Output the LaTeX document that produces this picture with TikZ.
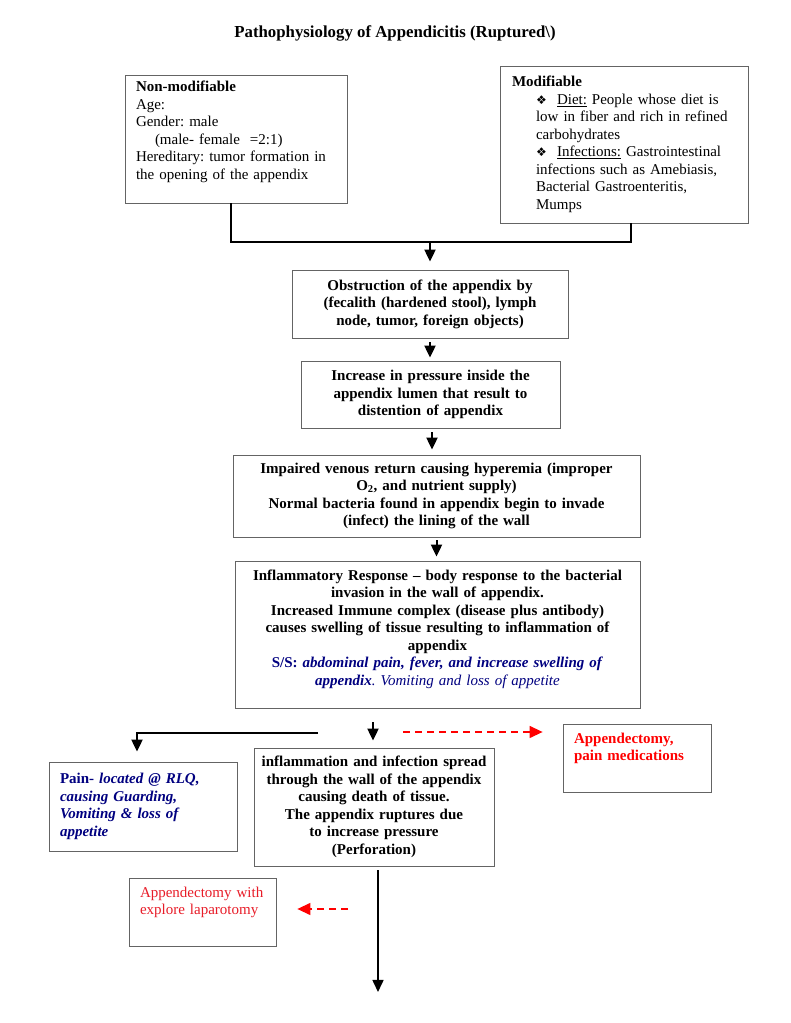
\documentclass[tikz,border=0pt]{standalone}
\usepackage{fontspec}
\setmainfont{Liberation Serif}
\newfontfamily\symfont{DejaVu Sans}
\usepackage{tikz}
\usetikzlibrary{arrows.meta, calc, positioning}
\frenchspacing
\definecolor{navytext}{RGB}{0,0,128}
\definecolor{redtext}{RGB}{255,0,0}
\definecolor{redsoft}{RGB}{232,28,40}
\definecolor{boxline}{RGB}{100,100,100}
\tikzstyle{basefont}=[font=\fontsize{15}{17.5}\selectfont]
\tikzstyle{box}=[basefont, draw=boxline, line width=0.8pt, inner xsep=4pt, inner ysep=0pt, align=center]
\tikzstyle{boldbox}=[box, font=\fontsize{15}{17.5}\selectfont\bfseries]
\tikzstyle{leftbox}=[box, align=left, inner xsep=11pt]
\tikzstyle{joint}=[line width=2pt]
\tikzstyle{arrow}=[line width=2pt, -{Triangle[width=11pt,length=12pt]}]
\tikzstyle{redarrow}=[red, line width=1.3pt, dash pattern=on 7pt off 5pt, -{Triangle[width=12pt,length=13pt]}]
\newcommand*{\dingbullet}{\makebox[21pt][l]{\symfont\fontsize{12}{12}\selectfont ❖}}

\begin{document}
\begin{tikzpicture}[x=1pt, y=1pt]
	\fill[white] (0,0) rectangle (791,1023);
	\useasboundingbox (0,0) rectangle (791,1023);

	% Title
	\node[font=\fontsize{16.8}{19}\selectfont\bfseries] (title) at (395,990)
		{Pathophysiology of Appendicitis (Ruptured\textbackslash)};

	% Risk factors
	\node[leftbox, text width=200pt, minimum height=128pt] (nonmod) at (236,884) {%
		\textbf{Non-modifiable}\\
		Age:\\
		Gender: male\\
		\hspace*{19pt}(male- female\ \ =2:1)\\
		Hereditary: tumor formation in\\
		the opening of the appendix\\
		\mbox{}};
	\node[leftbox, inner xsep=12pt, text width=224pt, minimum height=157pt] (mod) at (624,878.5) {%
		\textbf{Modifiable}\\
		\hspace*{24pt}\dingbullet\underline{Diet:} People whose diet is\\
		\hspace*{24pt}low in fiber and rich in refined\\
		\hspace*{24pt}carbohydrates\\
		\hspace*{24pt}\dingbullet\underline{Infections:} Gastrointestinal\\
		\hspace*{24pt}infections such as Amebiasis,\\
		\hspace*{24pt}Bacterial Gastroenteritis,\\
		\hspace*{24pt}Mumps};

	% Main chain
	\node[boldbox, text width=268pt, minimum height=68pt] (obstr) at (430,719) {%
		Obstruction of the appendix by\\
		(fecalith (hardened stool), lymph\\
		node, tumor, foreign objects)};
	\node[boldbox, text width=251pt, minimum height=67pt] (press) at (430.5,628.5) {%
		Increase in pressure inside the\\
		appendix lumen that result to\\
		distention of appendix};
	\node[boldbox, text width=399pt, minimum height=82pt] (venous) at (436.5,527) {%
		Impaired venous return causing hyperemia (improper\\
		O\textsubscript{2}, and nutrient supply)\\
		Normal bacteria found in appendix begin to invade\\
		(infect) the lining of the wall};
	\node[boldbox, text width=397pt, minimum height=147pt] (inflam) at (437.5,388.5) {%
		Inflammatory Response -- body response to the bacterial\\
		invasion in the wall of appendix.\\
		Increased Immune complex (disease plus antibody)\\
		causes swelling of tissue resulting to inflammation of\\
		appendix\\
		{\color{navytext}S/S: \textit{abdominal pain, fever, and increase swelling of}}\\
		{\color{navytext}\textit{appendix}\textmd{\textit{. Vomiting and loss of appetite}}}\\[-3pt]
		\mbox{}};

	% Outcomes
	\node[leftbox, font=\fontsize{15}{17.5}\selectfont\bfseries, text=redtext,
		text width=126pt, minimum height=68pt] (meds) at (637,265) {%
		Appendectomy,\\
		pain medications\\
		\strut};
	\node[leftbox, font=\fontsize{15}{17.5}\selectfont\bfseries\itshape, text=navytext,
		text width=166pt, minimum height=89pt] (pain) at (143,216.5) {%
		\textup{Pain-} located @ RLQ,\\
		causing Guarding,\\
		Vomiting \& loss of\\
		appetite};
	\node[boldbox, text width=232pt, minimum height=118pt] (spread) at (374,216) {%
		inflammation and infection spread\\
		through the wall of the appendix\\
		causing death of tissue.\\
		The appendix ruptures due\\
		to increase pressure\\
		(Perforation)};
	\node[leftbox, text=redsoft, text width=125pt, minimum height=68pt] (explore) at (202.5,111) {%
		Appendectomy with\\
		explore laparotomy\\
		\strut};

	% Connectors
	\coordinate (join) at (430,781);
	\draw[joint] ([xshift=-5pt]nonmod.south) |- (join) -| ([xshift=7pt]mod.south);
	\draw[arrow] (join) -- ([yshift=8pt]obstr.north);
	\draw[arrow] ([yshift=-4pt]obstr.south) -- ([yshift=3pt]obstr.south |- press.north);
	\draw[arrow] ($(press.south)+(1.5,-4)$) -- ($(press.south |- venous.north)+(1.5,5)$);
	\draw[arrow] ([yshift=-3pt]venous.south) -- ($(venous.south |- inflam.north)+(0,4)$);
	\draw[arrow] ($(inflam.south -| spread.north)+(-1,-14)$) -- ($(spread.north)+(-1,7)$);

	\coordinate (fork) at (318,290);
	\draw[arrow] (fork) -| ($(pain.north)+(-6,10)$);

	\coordinate (medsfrom) at (403,291);
	\draw[redarrow] (medsfrom) -- ($(meds.west |- medsfrom)+(-20,0)$);

	\coordinate (end) at (378,31);
	\draw[arrow, line width=1.6pt] ($(spread.south)+(4,-4)$) -- (end);

	\coordinate (explorefrom) at (348,114);
	\draw[redarrow] (explorefrom) -- ($(explore.east |- explorefrom)+(21,0)$);
\end{tikzpicture}
\end{document}
